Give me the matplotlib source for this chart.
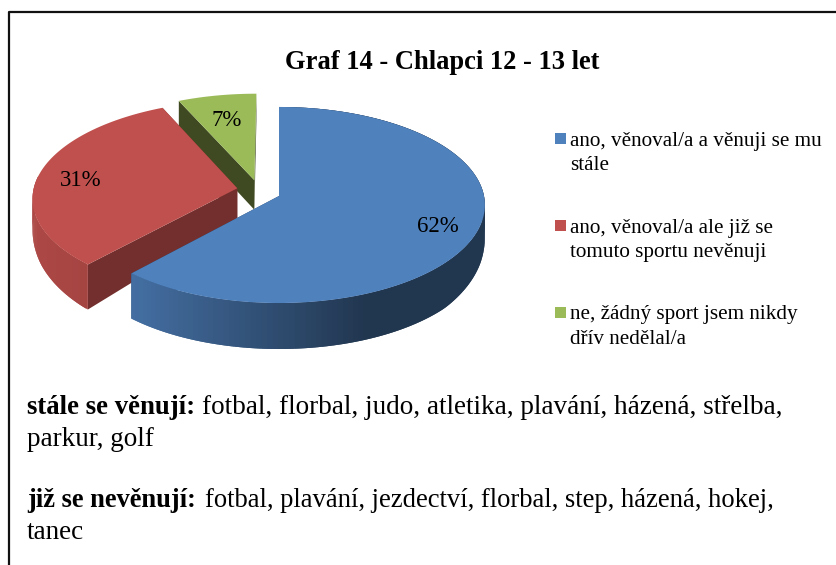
import numpy as np
import matplotlib
matplotlib.use('Agg')
import matplotlib.pyplot as plt
from matplotlib.patches import Polygon

# Pie data
labels = ['ano, věnoval/a a věnuji se mu\nstále',
          'ano, věnoval/a ale již se\ntomuto sportu nevěnuji',
          'ne, žádný sport jsem nikdy\ndřív nedělal/a']
values = [61.7, 31.49, 6.81]
title = 'Graf 14 - Chlapci 12 - 13 let'

colors = ['#4f81bd', '#c0504d', '#9bbb59']
inner_colors = ['#26405f', '#722f2d', '#3f4a22']
offsets = [(0.0, 0.0), (-0.205, -0.08), (-0.122, -0.165)]

plt.rcParams['font.family'] = ['Liberation Serif', 'DejaVu Serif']

W, H = 836, 565
fig = plt.figure(figsize=(W / 100, H / 100), dpi=100)
ax = fig.add_axes([0, 0, 1, 1])
ax.set_xlim(0, W)
ax.set_ylim(H, 0)
ax.axis('off')

# Perspective of the pie plane
CX, CY = 279, 196
A, B, K = 205.0, 97.2, 0.0918


def project(u, v):
    d = 1 - K * v
    return CX + A * u / d, CY + B * v / d


def depth(v):
    return np.interp(v, [-1.2, 0.0, 0.3, 0.65, 1.0], [27, 30, 38, 45, 46])


def shade(c, f):
    return tuple(np.array(matplotlib.colors.to_rgb(c)) * f)


def rim(start, stop, off):
    t = np.radians(np.linspace(start, stop, 160))
    return np.sin(t) + off[0], -np.cos(t) + off[1]


# frame (no right edge in the source)
ax.plot([9, 9, W], [H, 11.5, 11.5], color='#111111', lw=1.6)

total = sum(values)
stops = np.cumsum([0] + values) / total * 360
order = [2, 1, 0]  # back to front
for i in order:
    start, stop = stops[i], stops[i + 1]
    off = offsets[i]
    u, v = rim(start, stop, off)
    # flat inner walls
    for ang in (start, stop):
        uu, vv = rim(ang, ang, off)
        p0 = project(off[0], off[1])
        p1 = project(uu[0], vv[0])
        ax.add_patch(Polygon([p0, p1, (p1[0], p1[1] + depth(vv[0])),
                              (p0[0], p0[1] + depth(off[1]))],
                             closed=True, fc=inner_colors[i], ec='none', zorder=2 + (2 - i) * 3))
    # outer side wall with shading
    x, y = project(u, v)
    for j in range(len(x) - 1):
        if v[j] < off[1] - 0.12 and i != 0:
            continue
        frac = (x[j] - x.min()) / max(x.max() - x.min(), 1)
        if i == 0:
            f = np.interp(x[j], [133, 370, 485], [0.86, 0.42, 0.42])
        else:
            f = 0.9 - 0.1 * frac
        k = min(j + 2, len(x) - 1)  # overlap the next strip so no seams show
        qx = [x[j], x[k], x[k], x[j]]
        qy = [y[j], y[k], y[k] + depth(v[k]), y[j] + depth(v[j])]
        order_z = 3 + (2 - i) * 3
        ax.fill(qx, qy, color=shade(colors[i], f), lw=0, zorder=order_z)
    # top face
    ox, oy = project(off[0], off[1])
    ax.add_patch(Polygon(np.column_stack([np.r_[ox, x], np.r_[oy, y]]), closed=True,
                         fc=colors[i], ec='none', zorder=4 + (2 - i) * 3))

# percent labels
label_pos = [(438, 227), (81, 181), (227, 120)]
for val, (lx, ly) in zip(values, label_pos):
    ax.text(lx, ly, f'{round(val)}%', fontsize=16.5, ha='center', va='center', zorder=20)

ax.text(442.5, 62.5, title, fontsize=19.1, fontweight='bold', ha='center', va='center')

# legend
leg_y = [138.5, 225.5, 312.5]
leg_base = [146, 233, 319]
for c, lab, ly, lb in zip(colors, labels, leg_y, leg_base):
    ax.add_patch(Polygon([(555, ly - 5.5), (566, ly - 5.5), (566, ly + 5.5), (555, ly + 5.5)],
                         closed=True, fc=c, ec='none'))
    for n, line in enumerate(lab.split('\n')):
        ax.text(570, lb + n * 24.5, line, fontsize=15.2, va='baseline', ha='left')

# notes under the chart
ax.text(27, 414, 'stále se věnují:', fontsize=19.3, fontweight='bold', va='baseline')
ax.text(202, 414, 'fotbal, florbal, judo, atletika, plavání, házená, střelba,', fontsize=19.5, va='baseline')
ax.text(27, 446, 'parkur, golf', fontsize=19.5, va='baseline')
ax.text(27, 507, 'již se nevěnují:', fontsize=19.1, fontweight='bold', va='baseline')
ax.text(205, 507, 'fotbal, plavání, jezdectví, florbal, step, házená, hokej,', fontsize=19.15, va='baseline')
ax.text(27, 539, 'tanec', fontsize=19.5, va='baseline')

fig.savefig('out.png', dpi=100)
